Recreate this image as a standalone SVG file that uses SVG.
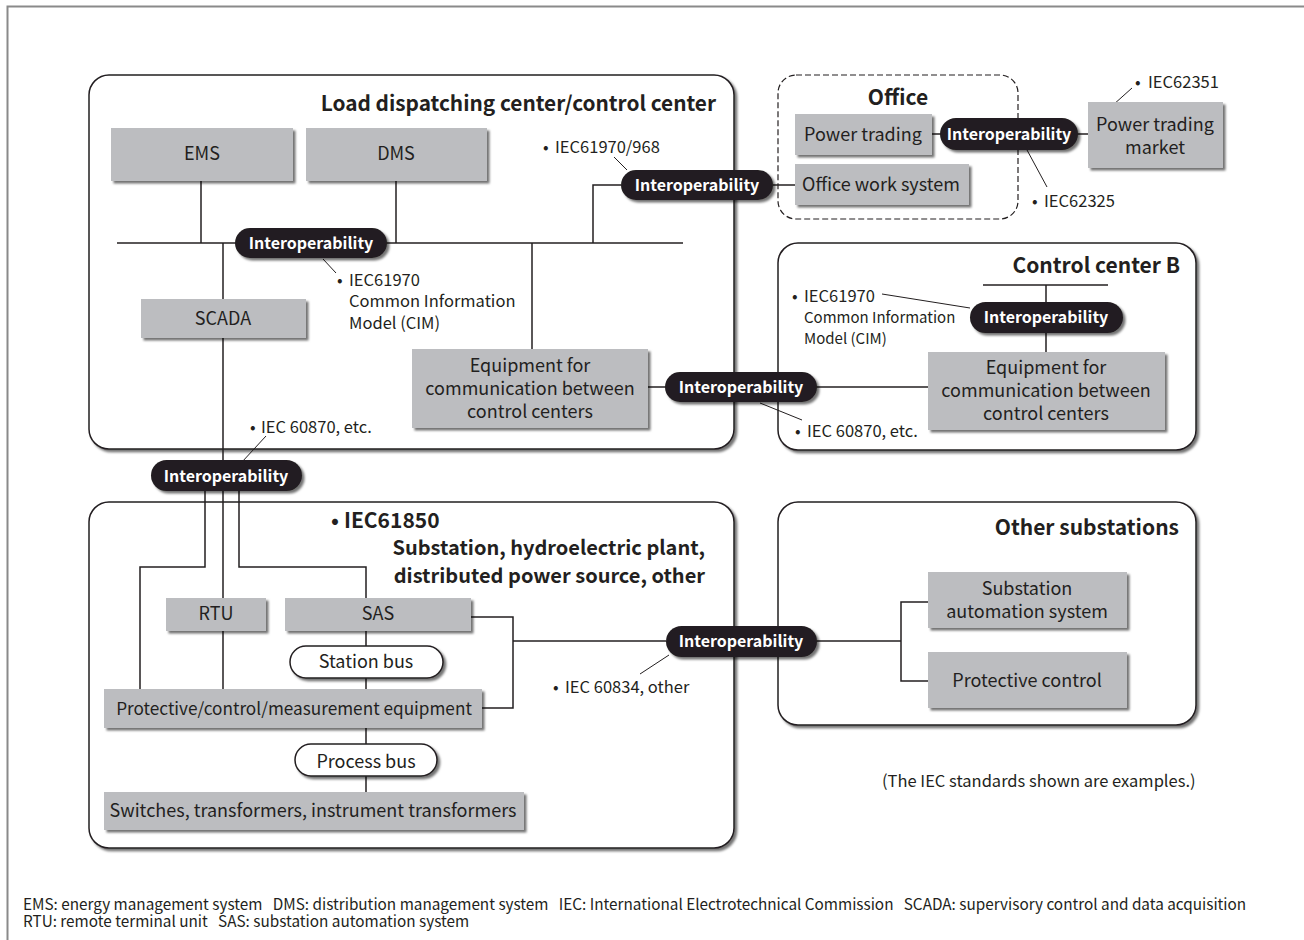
<svg xmlns="http://www.w3.org/2000/svg" width="1304" height="940" viewBox="0 0 1304 940">
  <style>
    text { font-family: "Noto Sans CJK JP", "Noto Sans", "Liberation Sans", sans-serif; fill: #231f20; }
    .box { fill: #bcbdc0; filter: url(#sh); }
    .area { fill: #ffffff; stroke: #231f20; stroke-width: 1.5; filter: url(#sh); }
    .office { fill: none; stroke: #231f20; stroke-width: 1.2; stroke-dasharray: 6 3; }
    .pill { fill: #231f20; filter: url(#sh); }
    .bus { fill: #ffffff; stroke: #231f20; stroke-width: 1.5; filter: url(#sh); }
    .t { font-size: 18px; text-anchor: middle; }
    .tl { font-size: 16.5px; }
    .ti { font-size: 21px; font-weight: bold; }
    .io { font-size: 16px; font-weight: bold; fill: #ffffff; text-anchor: middle; }
    .ln { fill: none; stroke: #231f20; stroke-width: 1.5; }
    .ld { fill: none; stroke: #231f20; stroke-width: 1; }
    .ft { font-size: 15.3px; white-space: pre; }
  </style>
  <defs>
    <filter id="sh" x="-10%" y="-10%" width="125%" height="140%">
      <feDropShadow dx="2.5" dy="2.5" stdDeviation="1.2" flood-color="#000000" flood-opacity="0.55"/>
    </filter>
  </defs>

  <rect width="1304" height="940" fill="#ffffff"/>
  <!-- page frame -->
  <path d="M7.5,940 V6.5 H1304" fill="none" stroke="#8a8a8a" stroke-width="2"/>

  <!-- grouping areas -->
  <g id="load-center">
    <rect class="area" x="89" y="75" width="645" height="374" rx="20"/>
    <text class="ti" x="716" y="111" text-anchor="end" style="font-size:20.8px">Load dispatching center/control center</text>
  </g>
  <g id="control-center-b">
    <rect class="area" x="778" y="243" width="418" height="207" rx="20"/>
    <text class="ti" x="1180" y="273" text-anchor="end">Control center B</text>
  </g>
  <g id="substation">
    <rect class="area" x="89" y="502" width="645" height="346" rx="20"/>
    <text class="ti" x="331" y="528">•</text>
    <text class="ti" x="344" y="528">IEC61850</text>
    <text class="ti" x="705" y="555" text-anchor="end" style="font-size:20px">Substation, hydroelectric plant,</text>
    <text class="ti" x="705" y="583" text-anchor="end" style="font-size:20px">distributed power source, other</text>
  </g>
  <g id="other-substations">
    <rect class="area" x="778" y="502" width="418" height="223" rx="20"/>
    <text class="ti" x="1179" y="535" text-anchor="end">Other substations</text>
  </g>
  <g id="office">
    <rect class="office" x="778" y="75" width="240" height="144" rx="18"/>
    <text class="ti" x="898" y="105" text-anchor="middle">Office</text>
  </g>

  <!-- connectors -->
  <g id="connectors">
    <path class="ln" d="M117,243 H683"/>
    <path class="ln" d="M201,181 V243"/>
    <path class="ln" d="M396,181 V243"/>
    <path class="ln" d="M223,243 V689"/>
    <path class="ln" d="M205,491 V567 H140 V689"/>
    <path class="ln" d="M239,491 V567 H366 V598"/>
    <path class="ln" d="M366,631 V792"/>
    <path class="ln" d="M471,617 H513 V708 H482"/>
    <path class="ln" d="M513,641 H666"/>
    <path class="ln" d="M532,243 V349"/>
    <path class="ln" d="M593,243 V185 H621"/>
    <path class="ln" d="M773,185 H795"/>
    <path class="ln" d="M932,134 H1088"/>
    <path class="ln" d="M648,387 H928"/>
    <path class="ln" d="M983,285 H1108"/>
    <path class="ln" d="M1046,285 V352"/>
    <path class="ln" d="M816,641 H901"/>
    <path class="ln" d="M928,602 H901 V681 H928"/>
    <!-- standard leaders -->
    <path class="ld" d="M614,157 L627,170"/>
    <path class="ld" d="M1132,88 L1113,105"/>
    <path class="ld" d="M1027,150 L1047,187"/>
    <path class="ld" d="M323,259 L336,273"/>
    <path class="ld" d="M882,294 L970,308"/>
    <path class="ld" d="M760,403 L802,420"/>
    <path class="ld" d="M266,436 L242,462"/>
    <path class="ld" d="M669,655 L640,674"/>
  </g>

  <!-- systems -->
  <g id="ems"><rect class="box" x="111" y="128" width="182" height="53"/><text class="t" x="202" y="160">EMS</text></g>
  <g id="dms"><rect class="box" x="306" y="128" width="181" height="53"/><text class="t" x="396" y="160">DMS</text></g>
  <g id="scada"><rect class="box" x="141" y="299" width="165" height="39"/><text class="t" x="223" y="325">SCADA</text></g>
  <g id="equip-a"><rect class="box" x="412" y="349" width="236" height="79"/>
    <text class="t" x="530" y="372">Equipment for</text>
    <text class="t" x="530" y="395">communication between</text>
    <text class="t" x="530" y="418">control centers</text></g>
  <g id="power-trading"><rect class="box" x="795" y="114" width="137" height="41"/><text class="t" x="863" y="141">Power trading</text></g>
  <g id="office-work"><rect class="box" x="795" y="164" width="174" height="41"/><text class="t" x="881" y="191">Office work system</text></g>
  <g id="market"><rect class="box" x="1088" y="102" width="135" height="66"/>
    <text class="t" x="1155" y="131">Power trading</text>
    <text class="t" x="1155" y="154">market</text></g>
  <g id="equip-b"><rect class="box" x="928" y="352" width="237" height="78"/>
    <text class="t" x="1046" y="374">Equipment for</text>
    <text class="t" x="1046" y="397">communication between</text>
    <text class="t" x="1046" y="420">control centers</text></g>
  <g id="rtu"><rect class="box" x="166" y="598" width="100" height="33"/><text class="t" x="216" y="620">RTU</text></g>
  <g id="sas"><rect class="box" x="285" y="598" width="186" height="33"/><text class="t" x="378" y="620">SAS</text></g>
  <g id="station-bus"><rect class="bus" x="290" y="646" width="153" height="32" rx="16"/><text class="t" x="366" y="668">Station bus</text></g>
  <g id="protective-equipment"><rect class="box" x="104" y="689" width="378" height="39"/><text class="t" x="294" y="715" style="font-size:17.2px">Protective/control/measurement equipment</text></g>
  <g id="process-bus"><rect class="bus" x="295" y="744" width="142" height="32" rx="16"/><text class="t" x="366" y="768">Process bus</text></g>
  <g id="switches"><rect class="box" x="104" y="792" width="420" height="38"/><text class="t" x="313" y="817">Switches, transformers, instrument transformers</text></g>
  <g id="sas-other"><rect class="box" x="928" y="572" width="199" height="56"/>
    <text class="t" x="1027" y="595">Substation</text>
    <text class="t" x="1027" y="618">automation system</text></g>
  <g id="protective-control"><rect class="box" x="928" y="652" width="199" height="56"/><text class="t" x="1027" y="687">Protective control</text></g>

  <!-- interoperability points -->
  <g id="io-bus"><rect class="pill" x="235" y="228" width="152" height="30" rx="15"/><text class="io" x="311" y="249">Interoperability</text></g>
  <g id="io-office"><rect class="pill" x="621" y="170" width="152" height="30" rx="15"/><text class="io" x="697" y="191">Interoperability</text></g>
  <g id="io-market"><rect class="pill" x="940" y="118" width="138" height="32" rx="16"/><text class="io" x="1009" y="140">Interoperability</text></g>
  <g id="io-center-b"><rect class="pill" x="970" y="302" width="153" height="31" rx="15.5"/><text class="io" x="1046" y="323">Interoperability</text></g>
  <g id="io-centers"><rect class="pill" x="665" y="372" width="152" height="30" rx="15"/><text class="io" x="741" y="393">Interoperability</text></g>
  <g id="io-scada"><rect class="pill" x="151" y="460" width="151" height="31" rx="15.5"/><text class="io" x="226" y="482">Interoperability</text></g>
  <g id="io-substations"><rect class="pill" x="666" y="626" width="151" height="31" rx="15.5"/><text class="io" x="741" y="647">Interoperability</text></g>

  <!-- standard labels -->
  <g id="labels">
    <text class="tl" x="543" y="153">•</text><text class="tl" x="555" y="153">IEC61970/968</text>
    <text class="tl" x="1135" y="88">•</text><text class="tl" x="1148" y="88">IEC62351</text>
    <text class="tl" x="1032" y="207">•</text><text class="tl" x="1044" y="207">IEC62325</text>
    <text class="tl" x="337" y="286">•</text><text class="tl" x="349" y="286">IEC61970</text>
    <text class="tl" x="349" y="307">Common Information</text>
    <text class="tl" x="349" y="329">Model (CIM)</text>
    <text class="tl" x="792" y="302">•</text><text class="tl" x="804" y="302">IEC61970</text>
    <text class="tl" x="804" y="323" style="font-size:15px">Common Information</text>
    <text class="tl" x="804" y="344" style="font-size:15px">Model (CIM)</text>
    <text class="tl" x="795" y="437">•</text><text class="tl" x="807" y="437">IEC 60870, etc.</text>
    <text class="tl" x="250" y="433">•</text><text class="tl" x="261" y="433">IEC 60870, etc.</text>
    <text class="tl" x="553" y="693">•</text><text class="tl" x="565" y="693">IEC 60834, other</text>
    <text class="tl" x="882" y="787">(The IEC standards shown are examples.)</text>
  </g>

  <!-- abbreviations -->
  <g id="legend">
    <text class="ft" x="23" y="910" xml:space="preserve">EMS: energy management system   DMS: distribution management system   IEC: International Electrotechnical Commission   SCADA: supervisory control and data acquisition</text>
    <text class="ft" x="23" y="927" xml:space="preserve">RTU: remote terminal unit   SAS: substation automation system</text>
  </g>
</svg>
